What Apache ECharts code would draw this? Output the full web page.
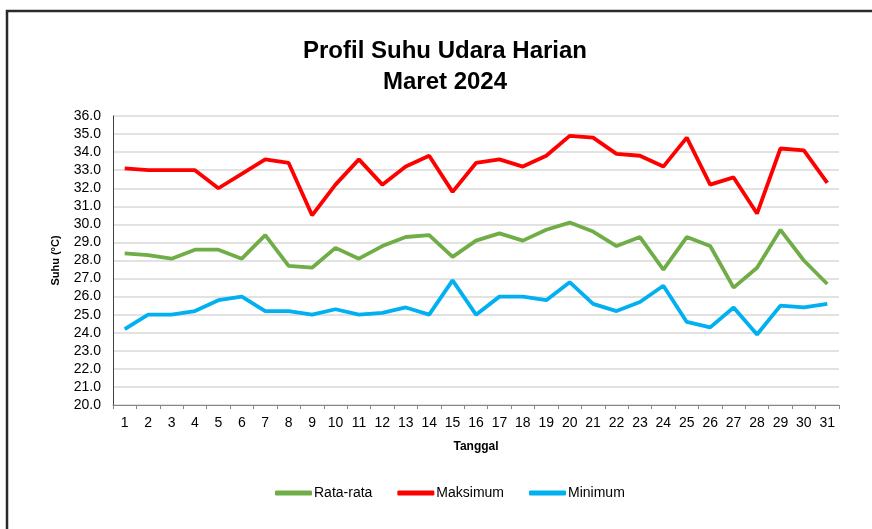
<!DOCTYPE html>
<html>
<head>
<meta charset="utf-8">
<script src="https://cdn.jsdelivr.net/npm/echarts@6/dist/echarts.min.js"></script>
<style>
html, body { margin: 0; padding: 0; background: #fff; }
#chart { width: 872px; height: 529px; }
</style>
</head>
<body>
<div id="chart"></div>
<script>
var days = [];
for (var d = 1; d <= 31; d++) days.push(String(d));

var rataRata = [28.4, 28.3, 28.1, 28.6, 28.6, 28.1, 29.4, 27.7, 27.6, 28.7,
    28.1, 28.8, 29.3, 29.4, 28.2, 29.1, 29.5, 29.1, 29.7, 30.1,
    29.6, 28.8, 29.3, 27.5, 29.3, 28.8, 26.5, 27.6, 29.7, 28.0, 26.7];
var maksimum = [33.1, 33.0, 33.0, 33.0, 32.0, 32.8, 33.6, 33.4, 30.5, 32.2,
    33.6, 32.2, 33.2, 33.8, 31.8, 33.4, 33.6, 33.2, 33.8, 34.9,
    34.8, 33.9, 33.8, 33.2, 34.8, 32.2, 32.6, 30.6, 34.2, 34.1, 32.3];
var minimum = [24.2, 25.0, 25.0, 25.2, 25.8, 26.0, 25.2, 25.2, 25.0, 25.3,
    25.0, 25.1, 25.4, 25.0, 26.9, 25.0, 26.0, 26.0, 25.8, 26.8,
    25.6, 25.2, 25.7, 26.6, 24.6, 24.3, 25.4, 23.9, 25.5, 25.4, 25.6];

var font = 'Liberation Sans';

var chart = echarts.init(document.getElementById('chart'));

// garis seri
var buildLine = function(name, data, color) {
    return {
        name: name,
        type: 'line',
        data: data,
        showSymbol: false,
        symbol: 'none',
        lineStyle: { color: color, width: 3.8 },
        itemStyle: { color: color },
        animation: false
    };
};

chart.setOption({
    animation: false,
    title: {
        text: 'Profil Suhu Udara Harian\nMaret 2024',
        left: 440,
        textAlign: 'center',
        top: 31,
        textStyle: { fontFamily: font, fontSize: 24, fontWeight: 'bold', color: '#000', lineHeight: 31 }
    },
    graphic: [{
        type: 'rect',
        shape: { x: 7, y: 11, width: 900, height: 560 },
        style: { fill: 'none', stroke: '#2b2b2b', lineWidth: 2.5 },
        silent: true
    }],
    legend: {
        bottom: 24,
        left: 270,
        icon: 'roundRect',
        itemWidth: 37,
        itemHeight: 5,
        itemGap: 25,
        textStyle: { fontFamily: font, fontSize: 14, color: '#000', padding: [0, 0, 0, -3] },
        data: ['Rata-rata', 'Maksimum', 'Minimum']
    },
    grid: { left: 113, right: 33, top: 116, bottom: 124 },
    xAxis: {
        type: 'category',
        data: days,
        boundaryGap: true,
        name: 'Tanggal',
        nameLocation: 'middle',
        nameGap: 36,
        nameTextStyle: { fontFamily: font, fontSize: 12, fontWeight: 'bold', color: '#000' },
        axisLine: { lineStyle: { color: '#868686', width: 1 } },
        axisTick: { show: true, length: 4, interval: 0, lineStyle: { color: '#868686' } },
        axisLabel: { fontFamily: font, fontSize: 14, color: '#000', interval: 0, margin: 11 }
    },
    yAxis: {
        type: 'value',
        min: 20,
        max: 36,
        interval: 1,
        name: 'Suhu (°C)',
        nameLocation: 'middle',
        nameGap: 52,
        nameRotate: 90,
        nameTextStyle: { fontFamily: font, fontSize: 11, fontWeight: 'bold', color: '#000' },
        axisLine: { show: true, lineStyle: { color: '#404040', width: 1 } },
        axisTick: { show: false },
        axisLabel: {
            fontFamily: font, fontSize: 14, color: '#000', margin: 12,
            formatter: function(v) { return v.toFixed(1); }
        },
        splitLine: { lineStyle: { color: '#d9d9d9', width: 1.5 } }
    },
    series: [
        buildLine('Rata-rata', rataRata, '#70ad47'),
        buildLine('Maksimum', maksimum, '#ff0000'),
        buildLine('Minimum', minimum, '#00b0f0')
    ]
});
</script>
</body>
</html>
